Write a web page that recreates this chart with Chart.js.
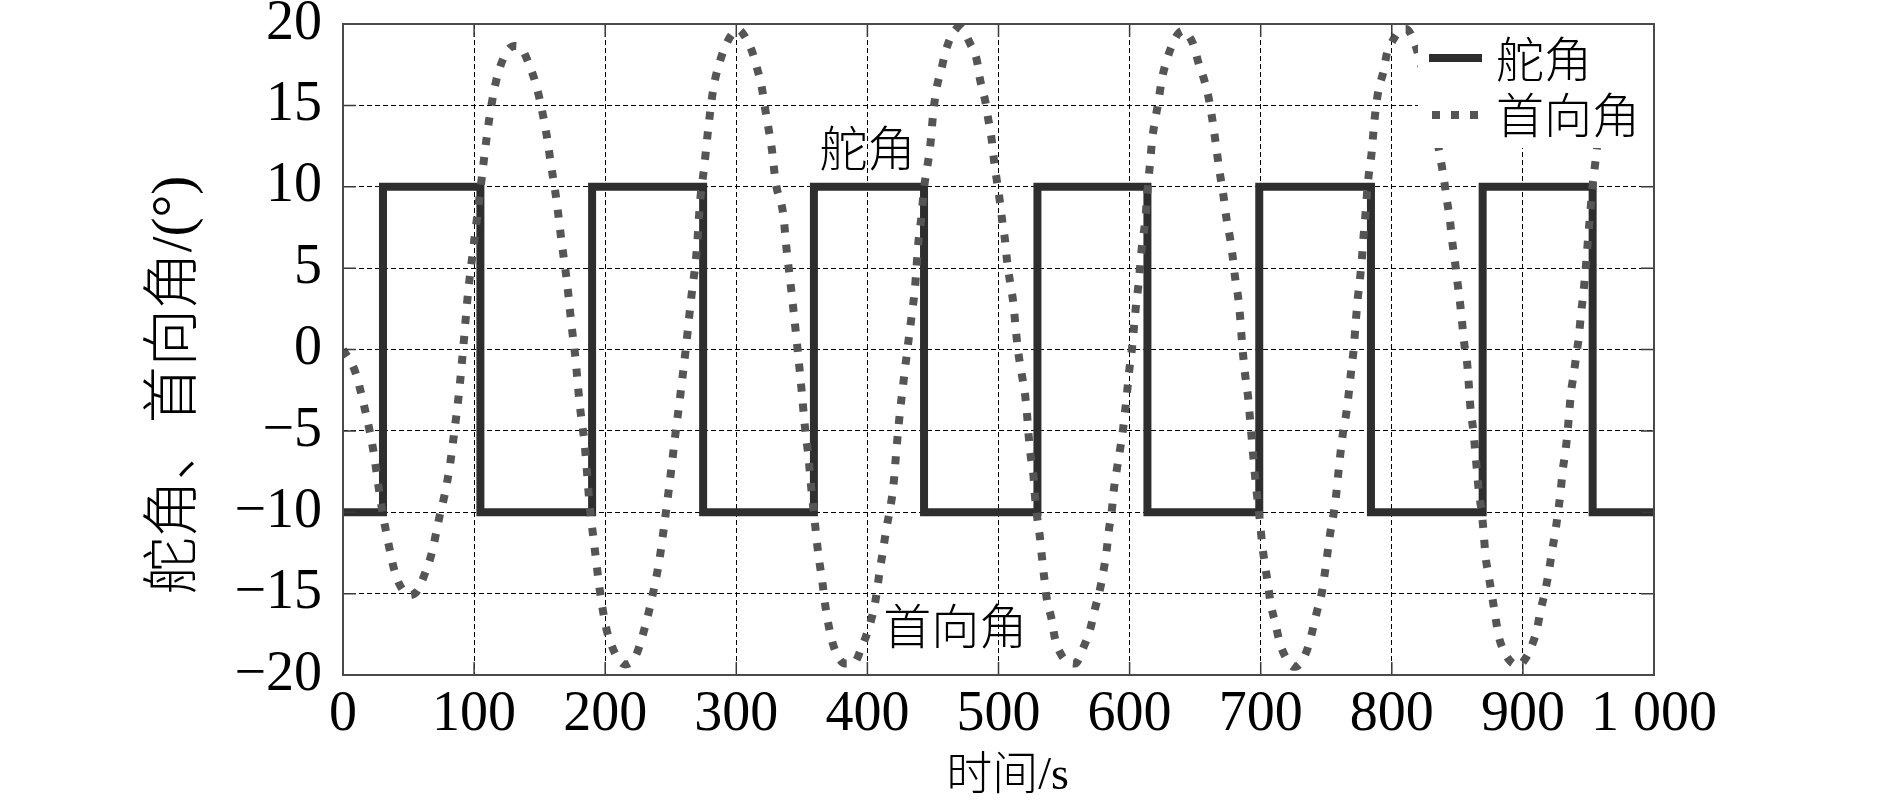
<!DOCTYPE html>
<html>
<head>
<meta charset="utf-8">
<title>舵角、首向角</title>
<script src="https://cdn.jsdelivr.net/npm/chart.js@4"></script>
<style>
    html, body { margin: 0; padding: 0; background: #fff; }
    #wrap { width: 1890px; height: 801px; }
</style>
</head>
<body>
<div id="wrap"><canvas id="zigzagChart" width="1890" height="801"></canvas></div>
<script>
// rudder angle: switch times (s) and the level held on each segment (deg)
const rudderSwitchTimes = [0, 30.5, 104.8, 190, 274.7, 359.2, 443.2, 529.7, 613.6, 698.9, 784.1, 869.3, 953.2, 1000];
const rudderLevels = [-10, 10, -10, 10, -10, 10, -10, 10, -10, 10, -10, 10, -10];

// heading angle (s, deg)
const headingTime = [
    0, 9, 16.5, 22.9, 29.3, 35.6, 40, 45, 51, 57, 62.3, 67.4, 73.8, 77.6, 81.4, 85, 88.3, 91.6, 95.4, 99.2,
    103, 106.8, 110.7, 115.7, 120, 125.9, 131, 136.1, 142.5, 147.5, 151, 155.7, 158.2, 162.8, 166.6, 170.9, 174.3, 177, 180.6, 184.4,
    188.2, 192.1, 195.9, 201, 206, 210, 215, 220, 224.5, 227.7, 231.5, 235.3, 241.2, 245.5, 249.3, 253.1, 257, 261, 265.8, 269.6,
    272.5, 275.5, 278.5, 282.4, 287.5, 292.6, 297, 301.5, 306, 311.6, 315.4, 319.2, 321.8, 324.3, 326.8, 330.2, 335.8, 338.4, 341, 343.5,
    346.5, 349.8, 352.4, 354.9, 357.5, 359.5, 362.6, 365.5, 368, 372.7, 377.8, 383, 389.3, 395.6, 400.7, 405.8, 409.6, 412.2, 414.7, 417.3,
    419.8, 422.3, 424.9, 427.5, 430.5, 433.8, 436.3, 438.9, 441.4, 443, 445.2, 447.8, 450.3, 452.9, 456.7, 459.2, 465.6, 470.7, 478.3, 483.4,
    485.9, 489.8, 492.3, 494.8, 496.6, 498.7, 501.2, 503, 505, 506.6, 508.9, 511.4, 512.9, 514.8, 517.7, 520.3, 521.8, 523, 524.5, 526.6,
    527.9, 529.5, 531.7, 533.3, 535, 536.8, 540.6, 543.2, 548.2, 553, 558.4, 564.8, 569.9, 573.7, 577.5, 580.1, 582.4, 584.2, 586.4, 588,
    590.2, 592.8, 595, 596.8, 598.5, 600, 602, 603.5, 605, 606.8, 608.1, 609.6, 611.9, 613.4, 614.6, 615.9, 617.2, 619.5, 622.1, 624.6,
    628.4, 633.5, 637, 641.2, 645, 648.8, 652.6, 656.4, 660.2, 662.8, 665.8, 668.5, 671.5, 673.8, 676.5, 678.8, 680.5, 682.8, 684.4, 685.6,
    686.9, 688.5, 690.5, 692, 693.3, 694.7, 696.2, 697.8, 699.6, 701, 703.2, 705.5, 707.6, 711.1, 714.9, 719, 725.1, 730, 735.2, 739.1,
    742.9, 746.5, 748.8, 750.8, 753, 755.6, 757.6, 759.2, 760.8, 762.8, 765.3, 767.3, 769, 770.9, 772.5, 774, 775.8, 777.2, 778.5, 779.8,
    781, 782.5, 784.5, 786, 787.6, 790, 793.7, 796.3, 800.1, 806.5, 811, 816.6, 822, 828, 833, 837, 839.5, 842, 844.4, 846,
    848.2, 850, 852, 853.7, 855.2, 857.3, 858.6, 860, 862.2, 863.7, 865, 866.5, 868.6, 870.1, 871.5, 873.9, 876.4, 879, 881.5, 886.6,
    891, 896.8, 901, 905.7, 910.4, 913.6, 917.1, 919.7, 922.2, 924.7, 927, 928.8, 930.4, 932.4, 933.9, 935.2, 936.6, 938.8, 941, 942.7,
    944.2, 946.2, 947.7, 949, 950.2, 951.5, 952.8, 954.8, 956.6
];
const headingAngle = [
    0, -1.3, -3.6, -6.1, -9.6, -12.3, -13.8, -14.7, -15.1, -14.8, -13.8, -12.6, -10.2, -8.9, -7.2, -5.0, -2.8, 0, 3.5, 6.1,
    8.6, 11.2, 13.7, 16.1, 17.4, 18.4, 18.65, 18.5, 17.4, 16.2, 15, 13, 11.6, 9.2, 6.7, 4.1, 1.5, -0.3, -3.4, -5.9,
    -9.6, -12.3, -14.8, -17.2, -18.4, -19.0, -19.35, -19.2, -18.6, -17.8, -16.7, -15.4, -13.0, -10.5, -8.1, -5.5, -3.0, -0.3, 3.3, 5.9,
    9.2, 11.2, 13.5, 16.0, 17.7, 18.8, 19.4, 19.65, 19.3, 18.4, 17.4, 16.2, 14.9, 13.7, 12.5, 10.2, 8.3, 6.1, 4.3, 2.5,
    0.2, -2.5, -4.8, -6.5, -8.8, -10.3, -12.6, -14.2, -15.8, -17.8, -18.9, -19.3, -19.3, -18.3, -17.2, -15.6, -13.5, -12.2, -10.9, -9.8,
    -8.4, -6.0, -3.8, -2.0, 0, 2.1, 3.8, 6.6, 8.3, 9.8, 11, 12.4, 14.6, 16.1, 17.3, 18.2, 19.5, 19.8, 18.8, 17.8,
    16.6, 15.3, 14.1, 12.9, 11.6, 10.4, 9.0, 7.8, 6.7, 5.4, 4.1, 2.8, 1.5, 0, -1.5, -2.8, -4.0, -5.3, -6.5, -7.7,
    -9.1, -10.3, -11.6, -12.9, -14.1, -15.3, -16.6, -17.8, -18.8, -19.2, -19.3, -18.3, -17.2, -15.9, -14.7, -13.6, -12.4, -11.1, -9.9, -8.6,
    -7.4, -6.1, -4.9, -3.6, -2.3, -1.1, 0.2, 1.5, 2.8, 4.0, 5.2, 6.5, 7.9, 9.5, 10.6, 11.7, 12.9, 14.1, 15.3, 16.6,
    17.8, 18.9, 19.4, 19.6, 19.3, 18.7, 17.6, 16.7, 15.5, 14.3, 12.6, 11.0, 9.5, 8.1, 6.9, 5.6, 4.4, 3.2, 1.9, 0.6,
    -0.6, -1.8, -3.0, -4.4, -5.6, -6.9, -8.2, -9.4, -10.7, -11.9, -13.2, -14.4, -15.6, -16.8, -18.1, -18.9, -19.5, -19.3, -18.5, -17.4,
    -16.1, -15.0, -13.8, -12.6, -11.3, -10.1, -8.9, -7.6, -6.4, -5.1, -3.9, -2.6, -1.3, 0, 1.7, 3.1, 4.4, 5.6, 7.0, 8.2,
    9.5, 10.8, 12.0, 13.4, 14.7, 16.0, 17.1, 18.2, 18.9, 19.6, 19.7, 19.0, 17.6, 15.6, 13.5, 11.8, 10.6, 9.2, 7.9, 6.7,
    5.4, 4.2, 2.9, 1.6, 0.4, -0.7, -2.0, -3.6, -5.0, -6.3, -7.5, -8.8, -10.0, -11.3, -12.7, -13.9, -15.1, -16.4, -17.6, -18.7,
    -19.2, -19.4, -19.1, -18.4, -17.3, -16.0, -14.8, -13.7, -12.4, -11.2, -9.9, -8.7, -7.4, -6.3, -5.2, -4.0, -2.7, -1.5, -0.2, 0.8,
    2.1, 3.5, 4.8, 6.1, 7.3, 8.5, 9.8, 11.2, 12.4
];

const xTickValues = [0, 100, 200, 300, 400, 500, 600, 700, 800, 900, 1000];
const xTickLabels = ['0', '100', '200', '300', '400', '500', '600', '700', '800', '900', '1 000'];
const yTickValues = [-20, -15, -10, -5, 0, 5, 10, 15, 20];
const yTickLabels = ['\u221220', '\u221215', '\u221210', '\u22125', '0', '5', '10', '15', '20'];

const seriesNames = ['舵角', '首向角'];
const xTitle = '时间/s';
const yTitle = '舵角、首向角/(°)';

const serif = "'Liberation Serif', 'Times New Roman', 'Noto Sans CJK SC', serif";
const cjkFont = "300 48px 'Noto Sans CJK SC', sans-serif";
const rudderColor = '#2e2e2e';
const headingColor = '#555555';

const rudderPoints = [];
rudderLevels.forEach((level, i) => {
    rudderPoints.push({ x: rudderSwitchTimes[i], y: level });
    rudderPoints.push({ x: rudderSwitchTimes[i + 1], y: level });
});
const headingPoints = headingTime.map((t, i) => ({ x: t, y: headingAngle[i] }));

// frame, inward ticks, legend box, labels and axis titles
const decorPlugin = {
    id: 'decor',
    afterDatasetsDraw(chart) {
        const { ctx, chartArea: a, scales: { x, y } } = chart;
        ctx.save();

        // inward tick marks on all four sides
        ctx.strokeStyle = '#3a3a3a';
        ctx.lineWidth = 1.5;
        ctx.setLineDash([]);
        ctx.beginPath();
        xTickValues.forEach(v => {
            const px = x.getPixelForValue(v);
            ctx.moveTo(px, a.bottom); ctx.lineTo(px, a.bottom - 13);
            ctx.moveTo(px, a.top); ctx.lineTo(px, a.top + 13);
        });
        yTickValues.forEach(v => {
            const py = y.getPixelForValue(v);
            ctx.moveTo(a.left, py); ctx.lineTo(a.left + 13, py);
            ctx.moveTo(a.right, py); ctx.lineTo(a.right - 13, py);
        });
        ctx.stroke();

        // legend box
        const lx = a.right - 236;
        ctx.fillStyle = '#fff';
        ctx.fillRect(lx, a.top, 236, 124);

        ctx.lineCap = 'butt';
        ctx.lineWidth = 8;
        ctx.strokeStyle = rudderColor;
        ctx.beginPath();
        ctx.moveTo(lx + 11, a.top + 34);
        ctx.lineTo(lx + 64, a.top + 34);
        ctx.stroke();

        ctx.strokeStyle = headingColor;
        ctx.setLineDash([8, 11]);
        ctx.beginPath();
        ctx.moveTo(lx + 14, a.top + 91);
        ctx.lineTo(lx + 62, a.top + 91);
        ctx.stroke();
        ctx.setLineDash([]);

        ctx.fillStyle = '#000';
        ctx.font = cjkFont;
        ctx.textAlign = 'left';
        ctx.textBaseline = 'middle';
        ctx.fillText(seriesNames[0], lx + 78, a.top + 35);
        ctx.fillText(seriesNames[1], lx + 78, a.top + 91);

        // labels next to the curves
        ctx.textAlign = 'center';
        ctx.fillText(seriesNames[0], x.getPixelForValue(400), y.getPixelForValue(12.4));
        ctx.fillText(seriesNames[1], x.getPixelForValue(467), y.getPixelForValue(-17));

        // outer frame
        ctx.strokeStyle = '#4a4a4a';
        ctx.lineWidth = 2;
        ctx.strokeRect(a.left, a.top, a.right - a.left, a.bottom - a.top);

        // axis titles
        ctx.fillStyle = '#000';
        ctx.font = '300 46px ' + serif;
        ctx.fillText(xTitle, (a.left + a.right) / 2 + 9, 777);

        ctx.font = '300 57px ' + serif;
        ctx.translate(176, a.top + 361);
        ctx.rotate(-Math.PI / 2);
        ctx.fillText(yTitle, 0, 0);

        ctx.restore();
    }
};

const tickFont = { family: serif, size: 56 };

new Chart(document.getElementById('zigzagChart').getContext('2d'), {
    type: 'line',
    data: {
        datasets: [{
            label: seriesNames[1],
            data: headingPoints,
            borderColor: headingColor,
            borderWidth: 8,
            borderDash: [8, 12],
            borderCapStyle: 'butt',
            cubicInterpolationMode: 'monotone',
            pointRadius: 0,
            fill: false,
            order: 1
        }, {
            label: seriesNames[0],
            data: rudderPoints,
            borderColor: rudderColor,
            borderWidth: 8,
            borderJoinStyle: 'miter',
            tension: 0,
            pointRadius: 0,
            fill: false,
            order: 2
        }]
    },
    options: {
        responsive: false,
        animation: false,
        devicePixelRatio: 1,
        layout: { padding: { top: 24, right: 236, bottom: 0, left: 0 } },
        plugins: {
            legend: { display: false },
            tooltip: { enabled: false }
        },
        scales: {
            x: {
                type: 'linear',
                min: 0,
                max: 1000,
                afterFit: s => { s.height = 126; s.paddingLeft = 0; s.paddingRight = 0; },
                afterBuildTicks: s => { s.ticks = xTickValues.map(v => ({ value: v })); },
                ticks: {
                    callback: (v, i) => xTickLabels[i],
                    font: tickFont,
                    color: '#000',
                    padding: 7,
                    maxRotation: 0,
                    autoSkip: false
                },
                grid: { color: '#000', lineWidth: 1, drawTicks: false },
                border: { display: false, dash: [5, 3] }
            },
            y: {
                type: 'linear',
                min: -20,
                max: 20,
                afterFit: s => { s.width = 343; s.paddingTop = 0; s.paddingBottom = 0; },
                afterBuildTicks: s => { s.ticks = yTickValues.map(v => ({ value: v })); },
                ticks: {
                    callback: (v, i) => yTickLabels[i],
                    font: { family: serif, size: 56, lineHeight: 0.1 },
                    color: '#000',
                    padding: 21,
                    autoSkip: false
                },
                grid: { color: '#000', lineWidth: 1, drawTicks: false },
                border: { display: false, dash: [5, 3] }
            }
        }
    },
    plugins: [decorPlugin]
});
</script>
</body>
</html>
